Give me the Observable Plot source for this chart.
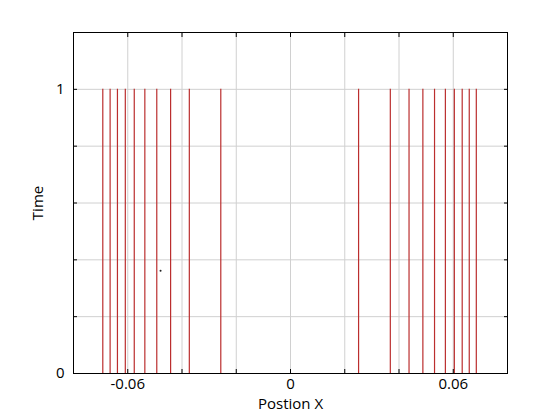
<!DOCTYPE html>
<html>
<head>
<meta charset="utf-8">
<script src="https://cdn.jsdelivr.net/npm/d3@7"></script>
<script src="https://cdn.jsdelivr.net/npm/@observablehq/plot@0.6"></script>
<style>
  html, body { margin: 0; padding: 0; background: #fff; }
  #chart { width: 560px; height: 420px; }
</style>
</head>
<body>
<div id="chart"></div>
<script>
// Positions (x) of the vertical lines, each drawn from time 0 to time 1
const leftPositions = [-0.0692, -0.0665, -0.0638, -0.0609, -0.0576, -0.0537, -0.0493, -0.0442, -0.0373, -0.0257];
const rightPositions = [0.0251, 0.0368, 0.0437, 0.0488, 0.0531, 0.0571, 0.0604, 0.0633, 0.0659, 0.0685];
const lineStart = 0;
const lineEnd = 1;
// Stray single point
const strayX = [-0.0479];
const strayY = [0.362];

// Axes
const xDomain = [-0.08, 0.08];
const yDomain = [0, 1.2];
const xGridTicks = [-0.06, -0.04, -0.02, 0, 0.02, 0.04, 0.06];
const xLabelTicks = [-0.06, 0, 0.06];
const yGridTicks = [0.2, 0.4, 0.6, 0.8, 1.0];
const yLabelTicks = [0, 1];
const xTitle = "Postion X";
const yTitle = "Time";

const positions = leftPositions.concat(rightPositions);
const segments = positions.map(x => ({x, y1: lineStart, y2: lineEnd}));
const stray = strayX.map((x, i) => ({x, y: strayY[i]}));
const fmt = d => d === 0 ? "0" : (d < 0 ? "-" : "") + String(+Math.abs(d).toFixed(4));

const chart = Plot.plot({
  width: 560,
  height: 420,
  marginLeft: 73,
  marginRight: 53,
  marginTop: 32,
  marginBottom: 47,
  style: {fontFamily: "'Open Sans', sans-serif", fontSize: "15px", color: "#000", background: "#fff"},
  x: {domain: xDomain},
  y: {domain: yDomain},
  marks: [
    Plot.gridX(xGridTicks, {stroke: "#d0d0d0", strokeOpacity: 1}),
    Plot.gridY(yGridTicks, {stroke: "#d0d0d0", strokeOpacity: 1}),
    Plot.ruleX(segments, {x: "x", y1: "y1", y2: "y2", stroke: "#bb2e2e", strokeWidth: 1.2}),
    Plot.dot(stray, {x: "x", y: "y", r: 1, fill: "#222", stroke: "none"}),
    Plot.frame({stroke: "#000", strokeWidth: 1}),
    // inward tick marks on all four sides
    Plot.axisX(xGridTicks, {anchor: "bottom", tickSize: -4, tickFormat: () => "", label: null, stroke: "#000"}),
    Plot.axisX(xGridTicks, {anchor: "top", tickSize: -4, tickFormat: () => "", label: null, stroke: "#000"}),
    Plot.axisY(yGridTicks, {anchor: "left", tickSize: -4, tickFormat: () => "", label: null, stroke: "#000"}),
    Plot.axisY(yGridTicks, {anchor: "right", tickSize: -4, tickFormat: () => "", label: null, stroke: "#000"}),
    // labelled ticks
    Plot.axisX(xLabelTicks, {anchor: "bottom", tickSize: 0, tickPadding: 5, tickFormat: fmt,
      label: xTitle, labelAnchor: "center", labelArrow: "none", labelOffset: 35, fontSize: 15}),
    Plot.axisY(yLabelTicks, {anchor: "left", tickSize: 0, tickPadding: 9, tickFormat: fmt,
      label: yTitle, labelAnchor: "center", labelArrow: "none", labelOffset: 41, fontSize: 15})
  ]
});
document.getElementById("chart").appendChild(chart);
</script>
</body>
</html>
